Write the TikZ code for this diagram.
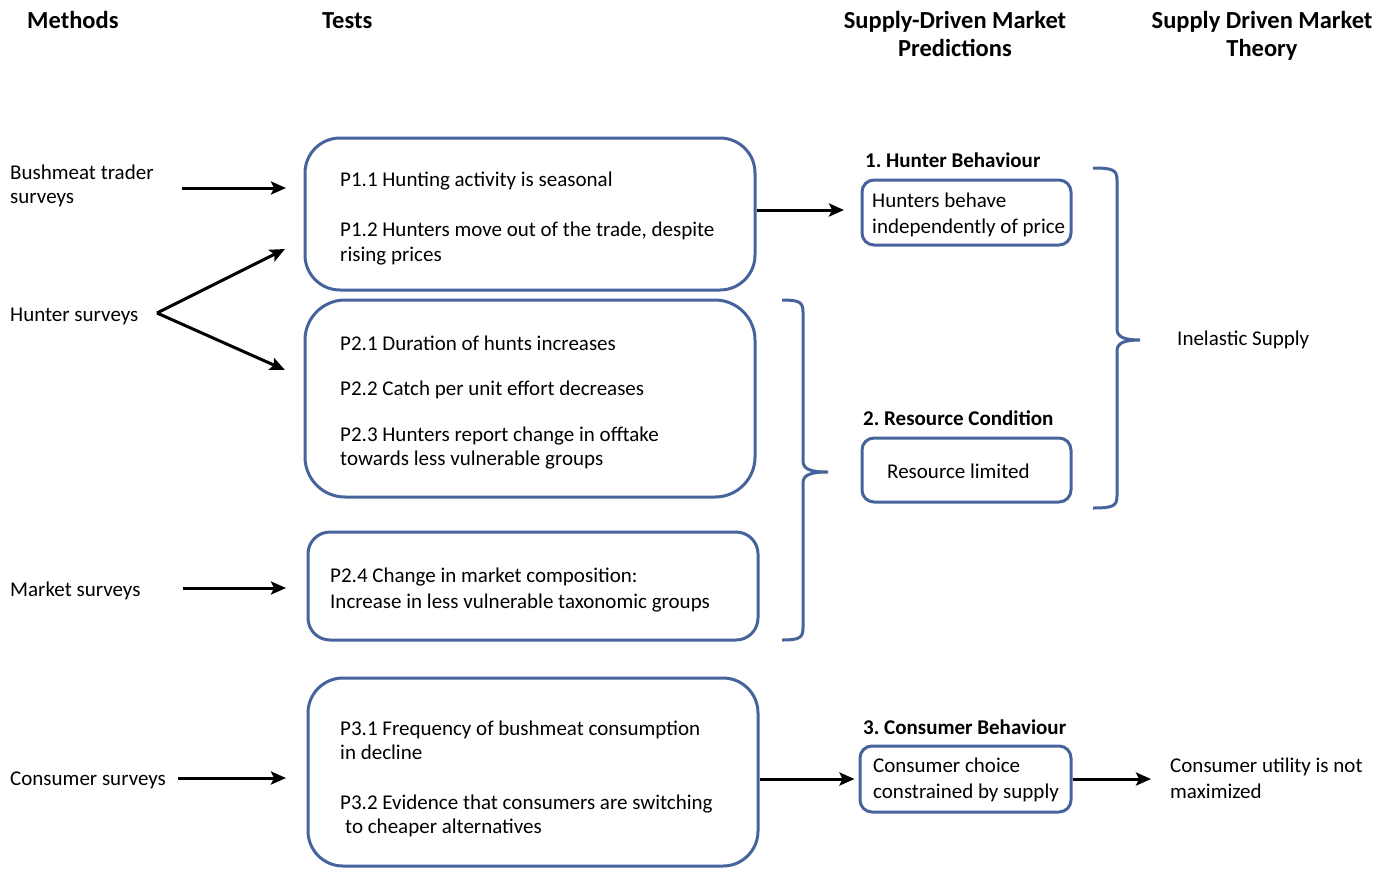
\documentclass[tikz,border=0pt]{standalone}
\usepackage{fontspec}
\setmainfont{Carlito}
\usetikzlibrary{arrows.meta}
\definecolor{boxblue}{RGB}{70,100,155}
\frenchspacing
\begin{document}
\begin{tikzpicture}[x=1pt,y=-1pt,
  box/.style={draw=boxblue, line width=3pt, inner sep=0pt},
  txt/.style={anchor=base west, inner sep=0pt, font=\fontsize{21}{25}\selectfont},
  btxt/.style={anchor=base west, inner sep=0pt, font=\fontsize{21}{25}\selectfont\bfseries},
  hdr/.style={anchor=base, inner sep=0pt, font=\fontsize{24.5}{29}\selectfont\bfseries},
  arr/.style={line width=3pt, -{Stealth[length=15pt,width=13pt,inset=3pt]}},
  brace/.style={draw=boxblue, line width=3pt}]
\useasboundingbox (0,0) rectangle (1394,868);

% headers
\node[hdr, anchor=base west] (hm) at (27,28) {Methods};
\node[hdr, anchor=base west] (ht) at (322,28) {Tests};
\node[hdr] (hp1) at (955,28) {Supply-Driven Market};
\node[hdr] (hp2) at (955,56) {Predictions};
\node[hdr] (hs1) at (1262,28) {Supply Driven Market};
\node[hdr] (hs2) at (1262,56) {Theory};

% methods
\node[txt] (bt1) at (10,179) {Bushmeat trader};
\node[txt] (bt2) at (10,203) {surveys};
\node[txt] (hs) at (10,321) {Hunter surveys};
\node[txt] (ms) at (10,596) {Market surveys};
\node[txt] (cs) at (10,785) {Consumer surveys};

% test boxes
\node[box, rounded corners=35pt, minimum width=450pt, minimum height=152pt] (b1) at (530,214) {};
\node[box, rounded corners=40pt, minimum width=450pt, minimum height=197pt] (b2) at (530,398.5) {};
\node[box, rounded corners=22pt, minimum width=450pt, minimum height=108pt] (b3) at (533,586) {};
\node[box, rounded corners=35pt, minimum width=450pt, minimum height=188pt] (b4) at (533,772) {};

\node[txt] (t11) at (340,186) {P1.1 Hunting activity is seasonal};
\node[txt] (t12) at (340,236) {P1.2 Hunters move out of the trade, despite};
\node[txt] (t12b) at (340,261) {rising prices};

\node[txt] (t21) at (340,350) {P2.1 Duration of hunts increases};
\node[txt] (t22) at (340,395) {P2.2 Catch per unit effort decreases};
\node[txt] (t23) at (340,441) {P2.3 Hunters report change in offtake};
\node[txt] (t23b) at (340,465) {towards less vulnerable groups};

\node[txt] (t24) at (330,582) {P2.4 Change in market composition:};
\node[txt] (t24b) at (330,608) {Increase in less vulnerable taxonomic groups};

\node[txt] (t31) at (340,735) {P3.1 Frequency of bushmeat consumption};
\node[txt] (t31b) at (340,759) {in decline};
\node[txt] (t32) at (340,809) {P3.2 Evidence that consumers are switching};
\node[txt] (t32b) at (345,833) {to cheaper alternatives};

% prediction boxes
\node[btxt] (l1) at (865,167) {1. Hunter Behaviour};
\node[box, rounded corners=12pt, minimum width=209pt, minimum height=65pt] (p1) at (966.5,212.5) {};
\node[txt] (p1a) at (872,207) {Hunters behave};
\node[txt] (p1b) at (872,233) {independently of price};

\node[btxt] (l2) at (863,425) {2. Resource Condition};
\node[box, rounded corners=12pt, minimum width=209pt, minimum height=64pt] (p2) at (966.5,470) {};
\node[txt] (p2a) at (887,478) {Resource limited};

\node[btxt] (l3) at (863,734) {3. Consumer Behaviour};
\node[box, rounded corners=12pt, minimum width=211pt, minimum height=66pt] (p3) at (965.5,779) {};
\node[txt] (p3a) at (873,772) {Consumer choice};
\node[txt] (p3b) at (873,798) {constrained by supply};

% theory
\node[txt] (ie) at (1177,345) {Inelastic Supply};
\node[txt] (cu1) at (1170,772) {Consumer utility is not};
\node[txt] (cu2) at (1170,798) {maximized};

% arrows
\coordinate (a1s) at (182,188); \coordinate (a1e) at (286,188);
\coordinate (hv) at (157,313);
\coordinate (hve1) at (285,249); \coordinate (hve2) at (285,370);
\coordinate (a3s) at (183,588); \coordinate (a3e) at (286,588);
\coordinate (a4s) at (178,778); \coordinate (a4e) at (286,778);
\coordinate (a5e) at (844,210);
\coordinate (a7e) at (1151,779);
\draw[arr] (a1s) -- (a1e);
\draw[arr] (hv) -- (hve1);
\draw[arr] (hv) -- (hve2);
\draw[arr] (a3s) -- (a3e);
\draw[arr] (a4s) -- (a4e);
\draw[arr] (b1.east|-a5e) -- (a5e);
\draw[arr] (b4.east|-p3.west) -- ([xshift=-4pt]p3.west);
\draw[arr] (p3.east) -- (a7e);

% braces
\draw[brace] (782,300) .. controls (799,300) and (803,302) .. (803,312) -- (803,461)
  .. controls (803,469) and (810,472) .. (828,472)
  .. controls (810,472) and (803,475) .. (803,483) -- (803,628)
  .. controls (803,638) and (799,640) .. (782,640);
\draw[brace] (1093,168) .. controls (1113,168) and (1117,170) .. (1117,180) -- (1117,329)
  .. controls (1117,337) and (1124,340) .. (1140,340)
  .. controls (1124,340) and (1117,343) .. (1117,351) -- (1117,496)
  .. controls (1117,506) and (1113,508) .. (1093,508);
\end{tikzpicture}
\end{document}
